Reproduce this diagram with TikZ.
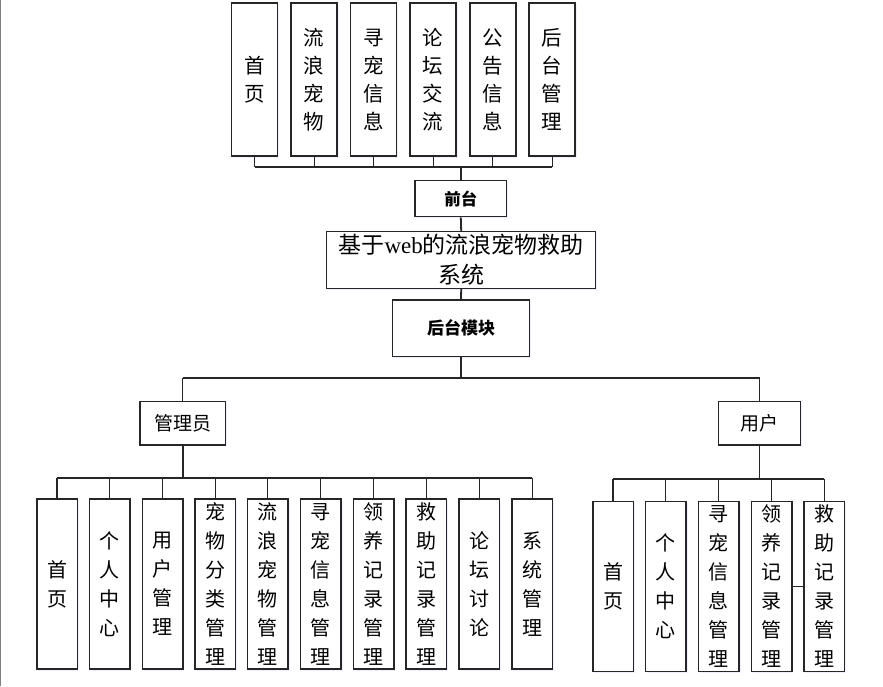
\documentclass[tikz,border=0pt]{standalone}
\usepackage{fontspec}
\setmainfont{Liberation Serif}
\newfontfamily\cjk{Noto Sans CJK SC}
\usetikzlibrary{shadows}
\tikzset{
  box/.style={draw=black!85, line width=1.5pt, fill=white, inner sep=0pt, align=center,
    drop shadow={fill=blue!25, opacity=0.25, shadow xshift=1.5pt, shadow yshift=-1.5pt}},
  topv/.style={box, minimum width=46pt, minimum height=153pt, font=\cjk\fontsize{20.5}{28}\selectfont},
  lowv/.style={box, minimum width=40.5pt, minimum height=170pt, font=\cjk\fontsize{20}{29}\selectfont},
  drop/.style={draw=black!85, line width=1.1pt},
  bus/.style={draw=black!85, line width=1.8pt},
}
\begin{document}
\begin{tikzpicture}[x=1pt,y=-1pt]
\useasboundingbox (0,0) rectangle (883,686);
\draw[gray, line width=1.2pt] (0.6,0) -- (0.6,686);
% top row
\node[topv] (t1) at (254.5,79.7) {首\\页};
\node[topv] (t2) at (314.2,79.7) {流\\浪\\宠\\物};
\node[topv] (t3) at (373.5,79.7) {寻\\宠\\信\\息};
\node[topv] (t4) at (433.2,79.7) {论\\坛\\交\\流};
\node[topv] (t5) at (492.8,79.7) {公\\告\\信\\息};
\node[topv] (t6) at (552.2,79.7) {后\\台\\管\\理};
\node[box, minimum width=91.7pt, minimum height=36pt, font=\cjk\bfseries\fontsize{16.5}{18}\selectfont] (qt) at (460.8,198.7) {前台};
\node[box, minimum width=269pt, minimum height=56.6pt, font=\fontsize{23}{30}\selectfont] (sys) at (461.2,260) {{\cjk 基于}web{\cjk 的流浪宠物救助}\\{\cjk 系统}};
\node[box, minimum width=136.6pt, minimum height=56.7pt, font=\cjk\bfseries\fontsize{17}{18}\selectfont] (ht) at (461,328.3) {后台模块};
\node[box, minimum width=85.7pt, minimum height=43.3pt, font=\cjk\fontsize{19}{20}\selectfont] (adm) at (182.8,423.3) {管理员};
\node[box, minimum width=81.6pt, minimum height=43.3pt, font=\cjk\fontsize{19}{20}\selectfont] (usr) at (759.5,423.3) {用户};
% admin row
\node[lowv] (a1) at (57,584) {首\\页};
\node[lowv] (a2) at (109.5,584) {个\\人\\中\\心};
\node[lowv] (a3) at (162.5,584) {用\\户\\管\\理};
\node[lowv] (a4) at (215.2,584) {宠\\物\\分\\类\\管\\理};
\node[lowv] (a5) at (267.9,584) {流\\浪\\宠\\物\\管\\理};
\node[lowv] (a6) at (320.9,584) {寻\\宠\\信\\息\\管\\理};
\node[lowv] (a7) at (373.5,584) {领\\养\\记\\录\\管\\理};
\node[lowv] (a8) at (426.4,584) {救\\助\\记\\录\\管\\理};
\node[lowv] (a9) at (479.3,584) {论\\坛\\讨\\论};
\node[lowv] (a10) at (532.1,584) {系\\统\\管\\理};
% user row
\node[lowv] (u1) at (613,586.3) {首\\页};
\node[lowv] (u2) at (665.9,586.3) {个\\人\\中\\心};
\node[lowv] (u3) at (718.9,586.3) {寻\\宠\\信\\息\\管\\理};
\node[lowv] (u4) at (771.5,586.3) {领\\养\\记\\录\\管\\理};
\node[lowv] (u5) at (824.2,586.3) {救\\助\\记\\录\\管\\理};
% junctions
\coordinate (fj) at (460.8,166.7);
\coordinate (mj) at (461,378.3);
\coordinate (aj) at (182.8,477.7);
\coordinate (uj) at (759.5,479.3);
% top connectors
\foreach \n in {t1,t2,t3,t4,t5,t6} \draw[drop] (\n.south) -- (\n.south |- fj);
\draw[bus] (t1.south |- fj) -- (t6.south |- fj);
\draw[bus] (fj) -- (qt.north);
\draw[bus] (qt.south) -- (sys.north);
\draw[bus] (sys.south) -- (ht.north);
\draw[bus] (ht.south) -- (mj);
\draw[bus] (adm.north |- mj) -- (usr.north |- mj);
\draw[drop] (adm.north |- mj) -- (adm.north);
\draw[drop] (usr.north |- mj) -- (usr.north);
% admin connectors
\draw[bus] (adm.south) -- (aj);
\draw[bus] (a1.north |- aj) -- (a10.north |- aj);
\foreach \n in {a1,a2,a3,a4,a5,a6,a7,a8,a9,a10} \draw[drop] (\n.north |- aj) -- (\n.north);
% user connectors
\draw[bus] (usr.south) -- (uj);
\draw[bus] (u1.north |- uj) -- (u5.north |- uj);
\foreach \n in {u1,u2,u3,u4,u5} \draw[drop] (\n.north |- uj) -- (\n.north);
\draw[drop] (u4.east) -- (u5.west);
\end{tikzpicture}
\end{document}
